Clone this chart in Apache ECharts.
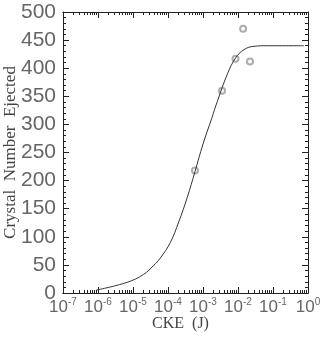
<!DOCTYPE html>
<html>
<head>
<meta charset="utf-8">
<script src="https://cdn.jsdelivr.net/npm/echarts@6/dist/echarts.min.js"></script>
<style>
  html, body { margin: 0; padding: 0; background: #fff; }
  #main { width: 320px; height: 338px; }
</style>
</head>
<body>
<div id="main"></div>
<script>
// measured points (open circles)
var pointX = [5.9e-4, 3.5e-3, 8.5e-3, 0.014, 0.022];
var pointY = [218, 360, 417, 470, 412];

// fitted curve
var curveX = [8.7e-7, 6.8e-6, 2.0e-5, 3.9e-5, 6.0e-5, 1.17e-4, 2.04e-4, 3.55e-4, 5.9e-4,
              1.0e-3, 1.78e-3, 2.57e-3, 5.0e-3, 8.5e-3, 0.0148, 0.0288, 0.069, 0.76];
var curveY = [5, 19, 33, 49, 62, 90, 127, 170, 216,
              265, 311, 341, 390, 418, 433, 439, 440, 440];

// log minor ticks 2..9 for each decade
var decades = [-7, -6, -5, -4, -3, -2, -1];
var minorX = [];
decades.forEach(function (d) {
    for (var k = 2; k <= 9; k++) minorX.push(k * Math.pow(10, d));
});

var gray = '#666';
var axisCol = '#222';

function pair(arrX, arrY) {
    return arrX.map(function (x, i) { return [x, arrY[i]]; });
}

var myChart = echarts.init(document.getElementById('main'));

function xAx(pos, withLabel, minor) {
    var a = {
        type: 'log', logBase: 10, min: 1e-7, max: 1, position: pos,
        axisLine: { show: true, onZero: false, lineStyle: { color: axisCol, width: 1 } },
        axisTick: { show: true, inside: true, length: minor ? 3 : 6, lineStyle: { color: axisCol } },
        splitLine: { show: false },
        axisLabel: { show: false }
    };
    if (minor) a.axisTick.customValues = minorX;
    if (withLabel) {
        a.axisLabel = {
            show: true, margin: 4,
            formatter: function (v) {
                var e = Math.round(Math.log10(v));
                return '{b|10}{s|' + e + '}';
            },
            rich: {
                b: { fontFamily: 'Liberation Sans', fontWeight: 'lighter', fontSize: 17, color: gray, lineHeight: 20 },
                s: { fontFamily: 'Liberation Sans', fontWeight: 'lighter', fontSize: 10, color: gray, verticalAlign: 'top', lineHeight: 12 }
            }
        };
        a.name = 'CKE  (J)';
        a.nameLocation = 'middle';
        a.nameGap = 23;
        a.nameMoveOverlap = false;
        a.nameTextStyle = { fontFamily: 'Liberation Serif', fontSize: 16, color: '#444', verticalAlign: 'top', padding: [0, 10, 0, 0] };
    }
    return a;
}

function yAx(pos, withLabel) {
    var a = {
        type: 'value', min: 0, max: 500, interval: 50, position: pos,
        axisLine: { show: true, onZero: false, lineStyle: { color: axisCol, width: 1 } },
        axisTick: { show: true, inside: true, length: 6, lineStyle: { color: axisCol } },
        minorTick: { show: true, splitNumber: 5, length: 3, lineStyle: { color: axisCol } },
        splitLine: { show: false },
        minorSplitLine: { show: false },
        axisLabel: { show: false }
    };
    if (withLabel) {
        a.axisLabel = { show: true, margin: 7, fontFamily: 'Liberation Sans', fontWeight: 'lighter', fontSize: 21, color: gray };
        a.name = 'Crystal  Number  Ejected';
        a.nameLocation = 'middle';
        a.nameGap = 44;
        a.nameMoveOverlap = false;
        a.nameTextStyle = { fontFamily: 'Liberation Serif', fontSize: 17, color: '#444' };
    }
    return a;
}

var option = {
    animation: false,
    backgroundColor: '#fff',
    grid: { left: 63, right: 12, top: 12, bottom: 45, outerBoundsMode: 'none', containLabel: false },
    xAxis: [xAx('bottom', true, false), xAx('bottom', false, true), xAx('top', false, false), xAx('top', false, true)],
    yAxis: [yAx('left', true), yAx('right', false)],
    series: [
        {
            type: 'line',
            data: pair(curveX, curveY),
            smooth: 0.4,
            showSymbol: false,
            lineStyle: { color: '#333', width: 1 }
        },
        {
            type: 'scatter',
            data: pair(pointX, pointY),
            symbol: 'emptyCircle',
            symbolSize: 6,
            itemStyle: { color: '#999', borderColor: '#999', borderWidth: 0.8 }
        }
    ]
};

myChart.setOption(option);
</script>
</body>
</html>
